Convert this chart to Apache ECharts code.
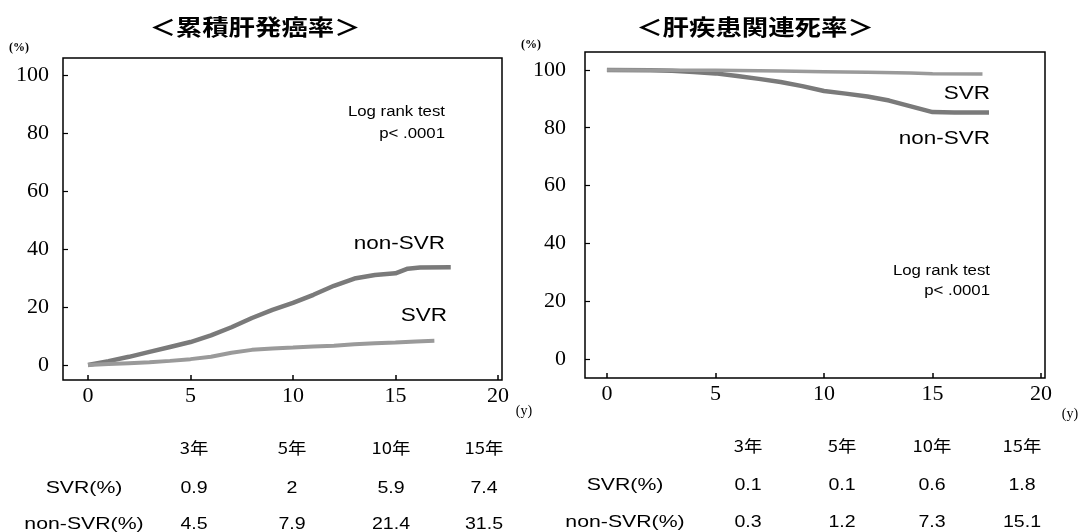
<!DOCTYPE html>
<html>
<head>
<meta charset="utf-8">
<script src="https://cdn.jsdelivr.net/npm/echarts@6/dist/echarts.min.js"></script>
<style>
html,body{margin:0;padding:0;background:#fff;}
#c{width:1083px;height:532px;}
</style>
</head>
<body>
<div id="c"></div>
<script>
// ---- data ----
const titles = ['＜累積肝発癌率＞', '＜肝疾患関連死率＞'];
const xTicks = [0, 5, 10, 15, 20];
const yTicks = [0, 20, 40, 60, 80, 100];

// cumulative hepatocarcinogenesis (%)
const cancerNonSVRYears = [0, 1, 2, 3, 4, 5, 6, 7, 8, 9, 10, 11, 12, 13, 14, 15, 15.6, 16.2, 17.7];
const cancerNonSVR      = [0, 1.3, 2.8, 4.5, 6.2, 7.9, 10.2, 13.0, 16.2, 19.0, 21.4, 24.2, 27.3, 29.8, 31.0, 31.6, 33.2, 33.6, 33.7];
const cancerSVRYears = [0, 1, 2, 3, 4, 5, 6, 7, 8, 9, 10, 11, 12, 13, 14, 15, 16, 16.9];
const cancerSVR      = [0, 0.3, 0.6, 0.9, 1.4, 2.0, 2.8, 4.2, 5.2, 5.7, 6.0, 6.4, 6.6, 7.1, 7.5, 7.7, 8.1, 8.3];

// liver-disease-related survival (%)
const deathNonSVRYears = [0, 2, 3, 4, 5, 6, 7, 8, 9, 10, 11, 12, 13, 14, 15, 16, 17.6];
const deathNonSVR      = [100, 99.9, 99.7, 99.3, 98.8, 97.9, 96.9, 95.8, 94.4, 92.7, 91.8, 90.8, 89.4, 87.4, 85.4, 85.3, 85.3];
const deathSVRYears = [0, 3, 5, 8, 10, 12, 14, 15, 17.3];
const deathSVR      = [100, 99.9, 99.9, 99.6, 99.4, 99.2, 98.9, 98.7, 98.6];

// tables
const tableCols = ['3年', '5年', '10年', '15年'];
const tableRows = ['SVR(%)', 'non-SVR(%)'];
const cancerTableSVR = ['0.9', '2', '5.9', '7.4'];
const cancerTableNon = ['4.5', '7.9', '21.4', '31.5'];
const deathTableSVR = ['0.1', '0.1', '0.6', '1.8'];
const deathTableNon = ['0.3', '1.2', '7.3', '15.1'];

const groupNames = ['SVR', 'non-SVR'];
const testText = ['Log rank test', 'p< .0001'];
const unitY = '(%)', unitX = '(y)';

// ---- layout ----
const chart = echarts.init(document.getElementById('c'), null, {renderer: 'canvas'});
const serif = '"Liberation Serif", "Times New Roman", serif';
const sans = '"Liberation Sans", Arial, sans-serif';
const cjk = '"Noto Sans CJK JP", "Noto Sans CJK SC", sans-serif';

function pairs(xs, ys) { return xs.map((x, i) => [x, ys[i]]); }

function txt(x, y, text, font, align, sx) {
  return {
    type: 'text', x: x, y: y, scaleX: sx || 1, silent: true,
    style: {text: text, font: font, fill: '#000',
      align: align || 'center', verticalAlign: 'middle',
      textAlign: align || 'center', textVerticalAlign: 'middle'}
  };
}

const xAxisCommon = {
  type: 'value', position: 'bottom',
  axisLine: {show: false, onZero: false},
  splitLine: {show: false},
  axisTick: {show: true, inside: true, length: 5, customValues: xTicks, lineStyle: {color: '#000', width: 1.5}},
  axisLabel: {customValues: xTicks, fontFamily: serif, fontSize: 22, color: '#000', margin: 5}
};
function yAxisCommon(min, max, margin) {
  return {
    type: 'value', min: min, max: max, position: 'left',
    axisLine: {show: false, onZero: false},
    splitLine: {show: false},
    axisTick: {show: true, inside: true, length: 5, customValues: yTicks, lineStyle: {color: '#000', width: 1.2}},
    axisLabel: {customValues: yTicks, fontFamily: serif, fontSize: 22, color: '#000', margin: margin}
  };
}

const lineCommon = {type: 'line', showSymbol: false, symbol: 'none', silent: true, animation: false};

const graphics = [];
// titles
graphics.push(txt(255, 27, titles[0], 'bold 22px ' + cjk, 'center', 1.2));
graphics.push(txt(755, 27, titles[1], 'bold 22px ' + cjk, 'center', 1.2));
// units
graphics.push(txt(29, 48, unitY, 'bold 12px ' + serif, 'right'));
graphics.push(txt(531, 45, unitY, 'bold 12px ' + serif, 'center'));
graphics.push(txt(524, 411, unitX, '14px ' + serif, 'center'));
graphics.push(txt(1070, 414, unitX, '14px ' + serif, 'center'));
// left annotations
graphics.push(txt(445, 112, testText[0], '14px ' + sans, 'right', 1.2));
graphics.push(txt(445, 134, testText[1], '14px ' + sans, 'right', 1.2));
graphics.push(txt(445, 244, groupNames[1], '18px ' + sans, 'right', 1.25));
graphics.push(txt(447, 316, groupNames[0], '18px ' + sans, 'right', 1.25));
// right annotations
graphics.push(txt(990, 94, groupNames[0], '18px ' + sans, 'right', 1.25));
graphics.push(txt(990, 139, groupNames[1], '18px ' + sans, 'right', 1.25));
graphics.push(txt(990, 271, testText[0], '14px ' + sans, 'right', 1.2));
graphics.push(txt(990, 291, testText[1], '14px ' + sans, 'right', 1.2));

// tables
function table(colX, labelX, rowY, svr, non) {
  tableCols.forEach((c, i) => graphics.push(txt(colX[i], rowY[0], c, '16px ' + cjk, 'center', 1.15)));
  graphics.push(txt(labelX, rowY[1], tableRows[0], '17px ' + sans, 'center', 1.25));
  graphics.push(txt(labelX, rowY[2], tableRows[1], '17px ' + sans, 'center', 1.25));
  svr.forEach((v, i) => graphics.push(txt(colX[i], rowY[1], v, '17px ' + sans, 'center', 1.15)));
  non.forEach((v, i) => graphics.push(txt(colX[i], rowY[2], v, '17px ' + sans, 'center', 1.15)));
}
table([194, 292, 391, 484], 84, [448, 488, 524], cancerTableSVR, cancerTableNon);
table([748, 842, 932, 1022], 625, [446, 485, 522], deathTableSVR, deathTableNon);

const option = {
  backgroundColor: '#fff',
  animation: false,
  grid: [
    {left: 63, top: 58, width: 439, height: 322, show: true, borderColor: '#000', borderWidth: 1.5, backgroundColor: 'transparent'},
    {left: 585, top: 52, width: 460, height: 326, show: true, borderColor: '#000', borderWidth: 1.5, backgroundColor: 'transparent'}
  ],
  xAxis: [
    Object.assign({}, xAxisCommon, {gridIndex: 0, min: -1.22, max: 20.2}),
    Object.assign({}, xAxisCommon, {gridIndex: 1, min: -1.01, max: 20.18})
  ],
  yAxis: [
    Object.assign(yAxisCommon(-5.2, 105.9, 14), {gridIndex: 0}),
    Object.assign(yAxisCommon(-6.6, 106.2, 19), {gridIndex: 1})
  ],
  series: [
    Object.assign({}, lineCommon, {name: 'non-SVR', xAxisIndex: 0, yAxisIndex: 0, data: pairs(cancerNonSVRYears, cancerNonSVR), lineStyle: {color: '#7a7a7a', width: 4.5}}),
    Object.assign({}, lineCommon, {name: 'SVR', xAxisIndex: 0, yAxisIndex: 0, data: pairs(cancerSVRYears, cancerSVR), lineStyle: {color: '#9a9a9a', width: 4}}),
    Object.assign({}, lineCommon, {name: 'non-SVR', xAxisIndex: 1, yAxisIndex: 1, data: pairs(deathNonSVRYears, deathNonSVR), lineStyle: {color: '#7a7a7a', width: 4.5}}),
    Object.assign({}, lineCommon, {name: 'SVR', xAxisIndex: 1, yAxisIndex: 1, data: pairs(deathSVRYears, deathSVR), lineStyle: {color: '#9a9a9a', width: 3.5}})
  ],
  graphic: graphics
};
chart.setOption(option);
</script>
</body>
</html>
